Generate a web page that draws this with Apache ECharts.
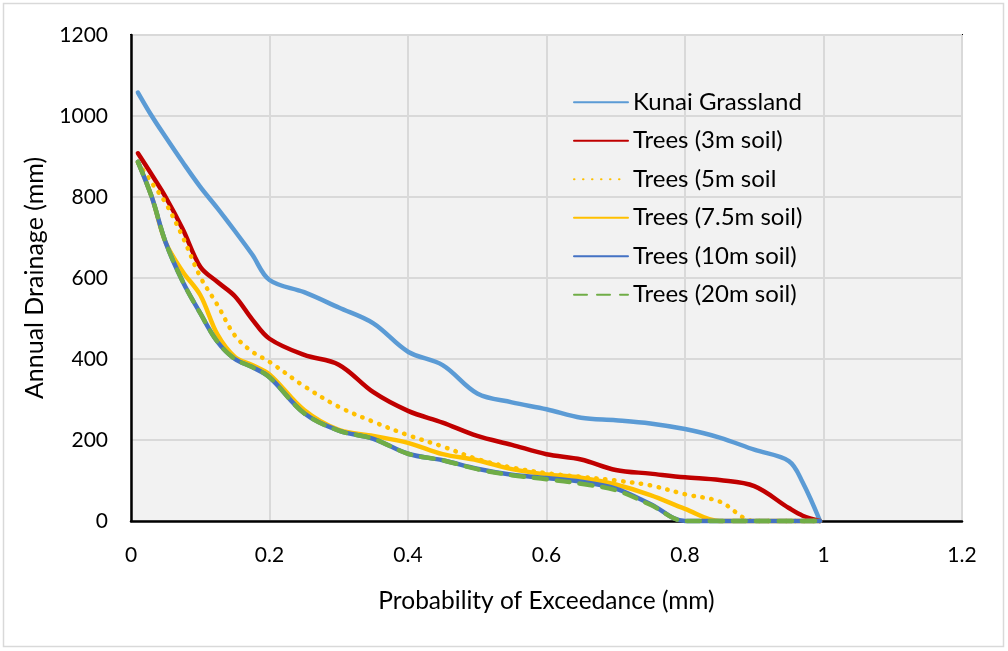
<!DOCTYPE html>
<html>
<head>
<meta charset="utf-8">
<script src="https://cdn.jsdelivr.net/npm/echarts@6/dist/echarts.min.js"></script>
<style>
  html, body { margin: 0; padding: 0; background: #ffffff; }
  #chart { width: 1008px; height: 651px; }
</style>
</head>
<body>
<div id="chart"></div>
<script>
// Probability of exceedance shared by every curve
const prob = [0.01, 0.03, 0.05, 0.075, 0.1, 0.125, 0.15, 0.175, 0.2, 0.25, 0.3, 0.35, 0.4,
  0.45, 0.5, 0.55, 0.6, 0.65, 0.7, 0.75, 0.8, 0.85, 0.9, 0.95, 0.97, 0.995];

// Annual drainage (mm) for each land cover
const kunai   = [1058, 1000, 948, 885, 825, 772, 716, 658, 595, 565, 527, 488, 418,
  385, 315, 293, 276, 255, 249, 241, 227, 206, 176, 148, 95, 0];
const trees3  = [908, 855, 800, 720, 628, 590, 555, 498, 450, 410, 386, 318, 272,
  243, 210, 188, 165, 152, 126, 117, 108, 101, 86, 32, 13, 0];
const trees5  = [885, 835, 785, 700, 603, 533, 458, 418, 393, 333, 282, 245, 212,
  184, 153, 132, 118, 109, 100, 88, 66, 48, 0, 0, 0, 0];
const trees75 = [887, 800, 688, 615, 558, 460, 405, 385, 362, 274, 225, 210, 193,
  165, 150, 128, 115, 107, 90, 64, 30, 0, 0, 0, 0, 0];
const trees10 = [887, 800, 688, 590, 513, 442, 400, 380, 355, 266, 223, 203, 166,
  150, 129, 114, 106, 97, 80, 42, 0, 0, 0, 0, 0, 0];
const trees20 = [887, 800, 688, 590, 513, 442, 400, 380, 355, 266, 223, 203, 166,
  150, 128, 113, 103, 92, 76, 40, 0, 0, 0, 0, 0, 0];

const xTicks = [0, 0.2, 0.4, 0.6, 0.8, 1, 1.2];
const yTicks = [0, 200, 400, 600, 800, 1000, 1200];

const seriesDefs = [
  { name: 'Kunai Grassland',   values: kunai,   color: '#5b9bd5', type: 'solid' },
  { name: 'Trees (3m soil)',   values: trees3,  color: '#c00000', type: 'solid' },
  { name: 'Trees (5m soil',    values: trees5,  color: '#ffc000', type: [0.5, 8.5] },
  { name: 'Trees (7.5m soil)', values: trees75, color: '#ffc000', type: 'solid' },
  { name: 'Trees (10m soil)',  values: trees10, color: '#4472c4', type: 'solid' },
  { name: 'Trees (20m soil)',  values: trees20, color: '#70ad47', type: [13, 10] }
];

const font = 'Lato, "Open Sans", sans-serif';
const chart = echarts.init(document.getElementById('chart'), null, { renderer: 'canvas' });

chart.setOption({
  animation: false,
  backgroundColor: '#ffffff',
  textStyle: { fontFamily: font },
  graphic: [{
    type: 'rect',
    shape: { x: 3.5, y: 3.5, width: 1000, height: 643 },
    style: { fill: 'none', stroke: '#d9d9d9', lineWidth: 1.5 },
    silent: true
  }],
  grid: {
    left: 131, top: 35, right: 46, bottom: 130,
    show: true, backgroundColor: '#f2f2f2', borderColor: '#000000', borderWidth: 2
  },
  legend: {
    orient: 'vertical',
    left: 568, top: 83,
    itemWidth: 54, itemHeight: 14, itemGap: 10,
    itemStyle: { opacity: 0 },
    textStyle: { fontSize: 24, color: '#000', fontFamily: font, lineHeight: 28.5 },
    data: seriesDefs.map(s => s.name)
  },
  xAxis: {
    type: 'value', min: 0, max: 1.2, interval: 0.2,
    name: 'Probability of Exceedance (mm)', nameLocation: 'middle', nameGap: 68,
    nameTextStyle: { fontSize: 24.5, color: '#000', fontFamily: font },
    axisLine: { show: true, onZero: false, lineStyle: { color: '#000', width: 2.5 } },
    axisTick: { show: false },
    axisLabel: { fontSize: 21, color: '#000', margin: 24, fontFamily: font,
      formatter: v => xTicks.includes(+v.toFixed(1)) ? String(+v.toFixed(1)) : '' },
    splitLine: { show: true, lineStyle: { color: '#d9d9d9', width: 2 } }
  },
  yAxis: {
    type: 'value', min: 0, max: 1200, interval: 200,
    name: 'Annual Drainage (mm)', nameLocation: 'middle', nameGap: 84, nameRotate: 90,
    nameTextStyle: { fontSize: 25, color: '#000', fontFamily: font },
    axisLine: { show: true, lineStyle: { color: '#000', width: 2.5 } },
    axisTick: { show: false },
    axisLabel: { fontSize: 21, color: '#000', margin: 23, fontFamily: font,
      formatter: v => yTicks.includes(v) ? String(v) : '' },
    splitLine: { show: true, lineStyle: { color: '#d9d9d9', width: 2 } }
  },
  series: seriesDefs.map(s => ({
    name: s.name,
    type: 'line',
    smooth: 0.35,
    symbol: 'none',
    clip: false,
    data: prob.map((p, i) => [p, s.values[i]]),
    lineStyle: { color: s.color, width: 4.5, type: s.type, cap: 'round' },
    itemStyle: { color: s.color }
  }))
});
</script>
</body>
</html>
